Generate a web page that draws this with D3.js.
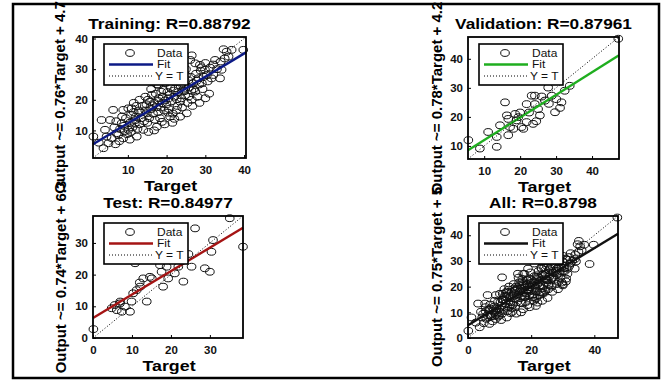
<!DOCTYPE html>
<html>
<head>
<meta charset="utf-8">
<script src="https://cdn.jsdelivr.net/npm/d3@7"></script>
<style>
  body { margin: 0; background: #fff; }
  svg { display: block; font-family: "Liberation Sans", Arial, sans-serif; }
</style>
</head>
<body>
<div id="chart"></div>
<script>
"use strict";

// [target, output] pairs
var trainingPts = [
  [1.1,8.0],[3.2,13.4],[5.4,13.4],[4.1,10.2],[3.7,4.2],[5.0,5.8],[6.2,16.7],[7.1,9.1],[8.4,12.3],[8.8,16.7],
  [10.1,17.2],[11.0,17.2],[11.9,13.4],[12.3,8.0],[10.1,10.2],[8.8,7.4],[14.0,10.2],[14.9,15.6],[15.7,19.4],[16.2,21.6],
  [17.5,11.2],[17.9,24.9],[19.2,23.2],[18.8,18.9],[20.5,20.5],[20.9,14.5],[22.2,23.8],[22.6,16.7],[23.5,19.4],[24.3,23.2],
  [25.2,15.6],[25.6,21.0],[26.5,20.0],[26.9,25.4],[27.4,22.7],[26.1,33.0],[27.4,31.9],[28.6,31.4],[29.9,29.8],[30.4,28.1],
  [28.2,27.0],[29.1,25.4],[32.1,28.1],[31.0,22.0],[34.2,29.8],[33.8,27.0],[32.5,33.0],[34.7,36.5],[35.5,35.7],[36.8,36.3],
  [36.0,34.1],[39.8,36.3],[26.5,34.5],
  [6.5,11.0],[7.0,13.0],[7.5,8.5],[8.0,10.5],[9.0,11.5],[9.5,14.0],[9.8,8.8],[10.5,12.5],[10.8,15.0],[11.2,11.0],
  [11.5,16.0],[12.0,14.5],[12.5,10.5],[12.8,16.5],[13.0,12.0],[13.5,14.0],[13.8,18.0],[14.2,13.0],[14.5,16.5],[15.0,12.5],
  [15.2,20.0],[15.5,14.0],[16.0,17.0],[16.5,15.5],[16.8,19.0],[17.0,13.5],[17.2,22.0],[17.8,16.0],[18.0,20.5],[18.3,14.0],
  [18.5,17.5],[19.0,21.0],[19.4,16.5],[19.8,25.5],[20.0,18.5],[20.2,22.5],[20.6,17.0],[21.0,24.0],[21.3,19.5],[21.6,15.5],
  [22.0,21.0],[22.3,26.0],[22.8,18.0],[23.0,22.5],[23.3,27.0],[23.8,20.5],[24.0,17.5],[24.5,25.0],[24.8,21.5],[25.0,28.0],
  [25.4,19.0],[25.8,24.0],[26.2,27.5],[26.7,18.0],[27.0,23.5],[27.6,28.5],[28.0,21.0],[28.4,25.0],[28.8,29.5],[29.3,23.5],
  [29.6,27.5],[30.0,32.0],[30.6,26.0],[31.2,30.5],[31.6,27.0],[32.0,31.5],[33.0,30.0],[34.0,32.5],[35.0,33.5],[13.0,20.0],
  [14.5,21.0],[16.0,23.5],[17.5,25.0],[19.0,27.0],[21.0,29.0],[23.0,30.0],[24.0,31.5],[25.0,30.0],[19.5,12.0],[21.5,12.5],
  [23.5,14.5],[28.5,19.0],[30.0,20.5],[5.8,7.5],[6.8,5.5],[7.8,6.5],[4.5,8.0],[2.5,6.0],[8.5,14.5],[11.5,19.0],
  [12.2,18.0],[10.5,7.0],[16.8,10.0],[15.3,9.5],[18.8,12.8],[22.0,13.8],
  [9.2,9.8],[10.8,9.5],[11.8,12.2],[13.2,15.8],[14.8,18.5],[16.4,18.2],[17.4,17.6],[18.6,22.6],[19.6,19.8],[20.8,21.6],
  [21.8,23.0],[22.6,20.2],[23.6,24.6],[24.6,22.8],[25.6,26.4],[26.4,23.0],[27.8,26.2],[29.0,30.6],[20.4,15.8],[17.8,19.6]
];

var validationPts = [
  [5.6,12.0],[8.8,9.1],[11.1,14.8],[13.5,13.1],[13.5,9.7],[14.4,17.1],[15.8,25.0],[16.3,20.5],[16.7,13.7],[17.2,16.5],
  [16.7,19.3],[19.0,18.8],[19.5,19.9],[20.4,16.5],[20.9,15.9],[21.8,18.2],[21.8,24.4],[23.6,17.6],[24.1,27.3],[24.1,24.4],
  [25.0,22.7],[25.5,20.5],[26.9,25.6],[27.8,30.1],[28.8,27.3],[29.7,21.6],[30.1,26.1],[31.1,23.1],[31.5,25.0],[32.4,29.0],
  [33.8,30.7],[47.3,46.9],[23.2,27.3],[18.1,15.9],[18.6,21.0],[22.5,21.5],[26.0,27.0],[20.0,21.5],[24.5,18.5],[28.0,24.5]
];

var testPts = [
  [0.1,2.8],[4.8,9.4],[5.6,10.4],[6.1,8.8],[6.9,10.9],[7.4,8.3],[8.2,9.9],[9.5,8.3],[9.9,11.5],[10.3,14.1],
  [11.2,15.1],[12.1,16.2],[12.9,18.8],[13.8,11.5],[14.6,19.3],[15.1,18.8],[10.8,23.6],[17.2,23.0],[17.6,20.9],[18.0,16.2],
  [19.3,18.8],[18.9,22.5],[21.0,20.4],[21.9,22.5],[23.2,17.8],[25.3,22.5],[26.2,34.6],[28.7,22.0],[30.0,20.9],[30.4,27.2],
  [30.8,30.9],[35.1,37.8],[38.5,28.8],[24.5,26.5],[7.0,11.5],[12.0,17.5]
];

var allPts = trainingPts.concat(validationPts, testPts);

var panelNames = ["Training", "Validation", "Test", "All"];
var rValues = ["0.88792", "0.87961", "0.84977", "0.8798"];
var fitSlopes = [0.76, 0.78, 0.74, 0.75];
var fitIntercepts = ["4.7", "4.2", "6.3", "5"];
var axisLimits = [[1, 40.5], [5.5, 47.5], [0, 38.5], [0, 47.5]];
var xTicks = [[10, 20, 30, 40], [10, 20, 30, 40], [0, 10, 20, 30], [0, 20, 40]];
var yTicks = [[10, 20, 30, 40], [10, 20, 30, 40], [0, 10, 20, 30], [0, 10, 20, 30, 40]];
var fitColors = ["#0c1a86", "#1fae1f", "#a51414", "#111111"];
var legendLabels = ["Data", "Fit", "Y = T"];

var panelData = [trainingPts, validationPts, testPts, allPts];

// where each axes box sits on the page
var boxes = [
  { x: 93,  y: 37,  w: 153, h: 121, lab: 65 },
  { x: 468, y: 37,  w: 151, h: 122, lab: 442 },
  { x: 93,  y: 216, w: 150, h: 122, lab: 66 },
  { x: 468, y: 216, w: 150, h: 122, lab: 442 }
];

// the source figure was stretched sideways a bit
var stretch = 1.15;

var svg = d3.select("#chart").append("svg")
  .attr("width", 665)
  .attr("height", 381);

// outer frame
svg.append("rect")
  .attr("x", 13).attr("y", 4)
  .attr("width", 646).attr("height", 374)
  .attr("fill", "none")
  .attr("stroke", "#000")
  .attr("stroke-width", 2.5);

panelNames.forEach(function (name, i) {
  var b = boxes[i];
  var lim = axisLimits[i];
  var x = d3.scaleLinear().domain(lim).range([b.x, b.x + b.w]);
  var y = d3.scaleLinear().domain(lim).range([b.y + b.h, b.y]);
  var g = svg.append("g");

  // axes (ticks point inward, like matlab)
  var xAx = g.append("g")
    .attr("transform", "translate(0," + (b.y + b.h) + ")")
    .call(d3.axisBottom(x).tickValues(xTicks[i]).tickSizeInner(-3).tickSizeOuter(0).tickPadding(8));
  var yAx = g.append("g")
    .attr("transform", "translate(" + b.x + ",0)")
    .call(d3.axisLeft(y).tickValues(yTicks[i]).tickSizeInner(-3).tickSizeOuter(0).tickPadding(5));
  [xAx, yAx].forEach(function (ax) {
    ax.select(".domain").remove();
    ax.selectAll("text").attr("font-size", 11.5).attr("fill", "#111").attr("font-weight", "bold")
      .attr("font-family", "Liberation Sans, Arial, sans-serif");
    ax.selectAll("line").attr("stroke", "#000");
  });

  // scatter
  g.append("g").selectAll("ellipse")
    .data(panelData[i])
    .enter()
    .append("ellipse")
    .attr("cx", function (d) { return x(d[0]); })
    .attr("cy", function (d) { return y(d[1]); })
    .attr("rx", 4.3)
    .attr("ry", 3.4)
    .attr("fill", "none")
    .attr("stroke", "#111")
    .attr("stroke-width", 1);

  // fit line
  var slope = fitSlopes[i], icpt = +fitIntercepts[i];
  g.append("line")
    .attr("x1", x(lim[0])).attr("y1", y(slope * lim[0] + icpt))
    .attr("x2", x(lim[1])).attr("y2", y(slope * lim[1] + icpt))
    .attr("stroke", fitColors[i])
    .attr("stroke-width", 2.4);

  // Y = T
  g.append("line")
    .attr("x1", x(lim[0])).attr("y1", y(lim[0]))
    .attr("x2", x(lim[1])).attr("y2", y(lim[1]))
    .attr("stroke", "#000")
    .attr("stroke-width", 1)
    .attr("stroke-dasharray", "1,2");

  // box
  g.append("rect")
    .attr("x", b.x).attr("y", b.y)
    .attr("width", b.w).attr("height", b.h)
    .attr("fill", "none")
    .attr("stroke", "#000")
    .attr("stroke-width", 1.8);

  // legend
  var lg = g.append("g").attr("transform", "translate(" + (b.x + 11) + "," + (b.y + 7) + ")");
  lg.append("rect")
    .attr("width", 84).attr("height", 41)
    .attr("fill", "#fff").attr("stroke", "#000").attr("stroke-width", 1.6);
  var rowY = [9, 20.5, 32];
  lg.append("ellipse").attr("cx", 26).attr("cy", rowY[0]).attr("rx", 4.3).attr("ry", 3.4)
    .attr("fill", "none").attr("stroke", "#111");
  lg.append("line").attr("x1", 5).attr("x2", 49).attr("y1", rowY[1]).attr("y2", rowY[1])
    .attr("stroke", fitColors[i]).attr("stroke-width", 2.4);
  lg.append("line").attr("x1", 5).attr("x2", 49).attr("y1", rowY[2]).attr("y2", rowY[2])
    .attr("stroke", "#000").attr("stroke-dasharray", "1,2");
  lg.selectAll("text.leg")
    .data(legendLabels)
    .enter()
    .append("text")
    .attr("class", "leg")
    .attr("transform", function (d, j) {
      return "translate(" + (j == 2 ? 51 : 53) + "," + (rowY[j] + 3.5) + ") scale(1.2,1)";
    })
    .attr("font-size", 10)
    .attr("fill", "#111")
    .text(function (d) { return d; });

  // title
  g.append("text")
    .attr("transform", "translate(" + (b.x + b.w / 2) + "," + (b.y - 8) + ") scale(" + stretch + ",1)")
    .attr("text-anchor", "middle")
    .attr("font-size", 15)
    .attr("font-weight", "bold")
    .text(name + ": R=" + rValues[i]);

  // x label
  g.append("text")
    .attr("transform", "translate(" + (b.x + b.w / 2 + 1) + "," + (b.y + b.h + 33) + ") scale(" + stretch + ",1)")
    .attr("text-anchor", "middle")
    .attr("font-size", 15.5)
    .attr("font-weight", "bold")
    .text("Target");

  // y label
  g.append("text")
    .attr("transform", "translate(" + b.lab + "," + (b.y + b.h / 2) + ") rotate(-90)")
    .attr("text-anchor", "middle")
    .attr("font-size", 15)
    .attr("font-weight", "bold")
    .text("Output ~= " + slope + "*Target + " + fitIntercepts[i]);
});
</script>
</body>
</html>
